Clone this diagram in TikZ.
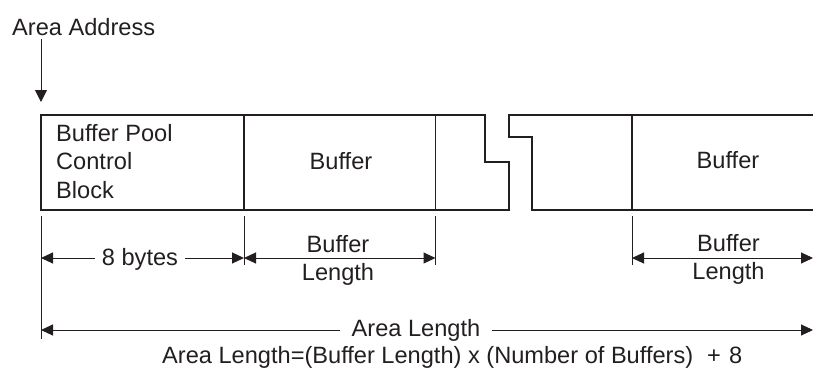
\documentclass[tikz,border=0pt]{standalone}
\usepackage{fontspec}
\setmainfont{Liberation Sans}
\usetikzlibrary{arrows.meta}
\definecolor{ink}{HTML}{231F20}
\begin{document}
\begin{tikzpicture}[x=1pt,y=-1pt,
  lbl/.style={inner sep=0pt, text=ink, font=\fontsize{23.6}{27.5}\selectfont},
  outline/.style={draw=ink, line width=1.1pt, line join=miter},
  ext/.style={draw=ink, line width=1pt},
  dim/.style={draw=ink, line width=1pt, {Triangle[length=12pt,width=11pt]}-{Triangle[length=12pt,width=11pt]}},
  ptr/.style={draw=ink, line width=1pt, -{Triangle[length=12pt,width=12pt]}}]
\useasboundingbox (0,0) rectangle (813,367);

% start address pointer
\node[lbl, anchor=base west] (addr) at (12,35) {Area Address};
\coordinate (addrtail) at (41,39);
\coordinate (addrtip) at (41,102);
\draw[ptr] (addrtail) -- (addrtip);

% storage area, broken in the middle
\draw[outline] (41,115) -- (485,115) -- (485,162) -- (509,162) -- (509,210) -- (41,210) -- cycle;
\draw[outline] (813,115) -- (509,115) -- (509,137) -- (532,137) -- (532,210) -- (813,210);
\draw[outline] (244,115) -- (244,210);
\draw[outline] (435.5,115) -- (435.5,210);
\draw[outline] (632,115) -- (632,210);

% multi-line nodes: the base anchor sits on the last line
\node[lbl, anchor=base west, align=left, font=\fontsize{23.6}{28.2}\selectfont] (bpcb) at (56,198) {Buffer Pool\\Control\\Block};
\node[lbl, anchor=base] (buf1) at (341,169.3) {Buffer};
\node[lbl, anchor=base] (buf2) at (728,168.5) {Buffer};

% extension lines
\draw[ext] (41,216) -- (41,339);
\draw[ext] (244,216) -- (244,265);
\draw[ext] (435.5,216) -- (435.5,265);
\draw[ext] (632,216) -- (632,265);

% dimension lines
\coordinate (d0) at (41,258);
\coordinate (d1) at (244,258);
\coordinate (d2) at (435.5,258);
\coordinate (d3) at (632,258);
\coordinate (d4) at (813,258);
\draw[dim] (d0) -- (d1);
\draw[dim] (d1) -- (d2);
\draw[dim] (d3) -- (d4);
\node[lbl, anchor=base, fill=white, inner xsep=7pt, inner ysep=2pt] (hdr) at (140,265) {8 bytes};
\node[lbl, anchor=base, align=center] (bl1) at (338,280) {Buffer\\Length};
\node[lbl, anchor=base, align=center] (bl2) at (728.5,279) {Buffer\\Length};

\coordinate (a0) at (41,330);
\coordinate (a1) at (813,330);
\draw[dim] (a0) -- (a1);
\node[lbl, anchor=base, fill=white, inner xsep=12pt, inner ysep=2pt] (alen) at (416,336) {Area Length};

\node[lbl, anchor=base west] (formula) at (162,363) {Area Length=(Buffer Length) x (Number of Buffers)\hspace{14pt}+\hspace{8pt}8};
\end{tikzpicture}
\end{document}
